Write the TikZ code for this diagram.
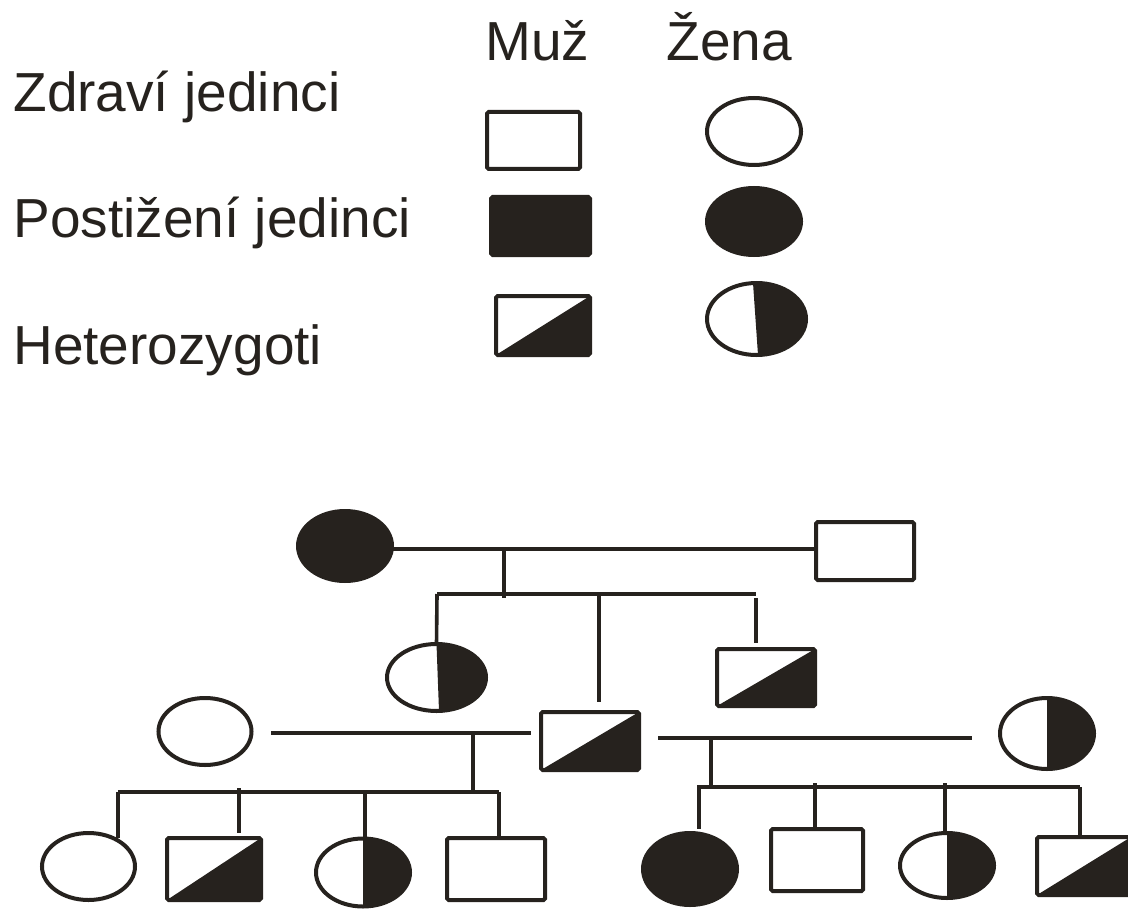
\documentclass[tikz,border=0pt]{standalone}
\usepackage{fontspec}
\setmainfont{Liberation Sans}
\usetikzlibrary{shapes.geometric}
\definecolor{ink}{RGB}{38,34,30}
\begin{document}
\begin{tikzpicture}[x=0.5pt,y=-0.5pt,
  ind/.style={draw=ink,line width=2pt,inner sep=0pt,outer sep=0pt},
  male/.style={ind,rectangle,rounded corners=0.8pt},
  female/.style={ind,ellipse},
  aff/.style={fill=ink},
  hetM/.style={path picture={\fill[ink] (path picture bounding box.south west) -- (path picture bounding box.north east) -- (path picture bounding box.south east) -- cycle;}},
  hetF/.style 2 args={path picture={\fill[ink] ([xshift=#1]path picture bounding box.north) -- (path picture bounding box.north east) -- (path picture bounding box.south east) -- ([xshift=#2]path picture bounding box.south) -- cycle;}},
  conn/.style={draw=ink,line width=1.8pt},
  lbl/.style={text=ink,inner sep=0pt,anchor=base west,font=\fontsize{27.5pt}{33pt}\selectfont}]
\useasboundingbox (0,0) rectangle (1128,909);

% ---------- legend ----------
\node[lbl] (tM) at (485,61) {Muž};
\node[lbl] (tZ) at (666,61) {Žena};
\node[lbl] (t1) at (13,112) {Zdraví jedinci};
\node[lbl] (t2) at (13,237) {Postižení jedinci};
\node[lbl] (t3) at (13,364) {Heterozygoti};

\node[male,minimum width=46.5pt,minimum height=28.5pt] (L1) at (533.5,140.5) {};
\node[female,minimum width=47pt,minimum height=33.5pt] (L2) at (754,131.5) {};
\node[male,aff,minimum width=49.5pt,minimum height=29pt] (L3) at (540.5,226) {};
\node[female,aff,minimum width=47pt,minimum height=33.5pt] (L4) at (754,221.5) {};
\node[male,hetM,minimum width=47pt,minimum height=29.5pt] (L5) at (543,325.5) {};
\node[female,hetF={-1.75pt}{0.75pt},minimum width=49.5pt,minimum height=36pt] (L6) at (756.5,319) {};

% ---------- pedigree individuals ----------
\node[female,aff,minimum width=47pt,minimum height=35pt] (P1) at (345,546) {};
\node[male,minimum width=49pt,minimum height=29pt] (P2) at (865,551) {};

\node[female,hetF={0pt}{1.25pt},minimum width=49.5pt,minimum height=33.5pt] (Q1) at (436.5,677.5) {};
\node[male,hetM,minimum width=49pt,minimum height=29pt] (Q2) at (590,741) {};
\node[male,hetM,minimum width=49pt,minimum height=28.5pt] (Q3) at (766,677.5) {};

\node[female,minimum width=46.5pt,minimum height=33.5pt] (W1) at (205,731.5) {};
\node[female,hetF={0pt}{0pt},minimum width=47pt,minimum height=35.5pt] (W2) at (1047,733.5) {};

\node[female,minimum width=46.5pt,minimum height=33.5pt] (A) at (88.5,866.5) {};
\node[male,hetM,minimum width=47pt,minimum height=31pt] (B) at (214,869) {};
\node[female,hetF={0pt}{0pt},minimum width=47pt,minimum height=34pt] (C) at (363,872.5) {};
\node[male,minimum width=49pt,minimum height=31pt] (D) at (496,869) {};
\node[female,aff,minimum width=47pt,minimum height=36pt] (E) at (690,869) {};
\node[male,minimum width=46pt,minimum height=31pt] (F) at (817,860) {};
\node[female,hetF={0pt}{0pt},minimum width=47pt,minimum height=32.5pt] (G) at (947,865.5) {};
\node[male,hetM,minimum width=47pt,minimum height=29pt] (H) at (1084,866) {};

% ---------- connector points ----------
\coordinate (m1) at (504,549);
\coordinate (s1L) at (437,594);
\coordinate (s1R) at (756,594);
\coordinate (q2top) at (599,702);
\coordinate (q3top) at (756,643);

\coordinate (m2a) at (271,733);
\coordinate (m2b) at (531,733);
\coordinate (m2) at (473,733);
\coordinate (s2L) at (118,792);
\coordinate (s2R) at (499,792);

\coordinate (m3a) at (658,738);
\coordinate (m3b) at (972,738);
\coordinate (m3) at (711,738);
\coordinate (s3L) at (697,787);
\coordinate (s3R) at (1080,787);

\coordinate (aT) at (118,838);
\coordinate (bT) at (239,833);
\coordinate (cT) at (365,837);
\coordinate (dT) at (499,837);
\coordinate (eT) at (699,829);
\coordinate (fT) at (815,828);
\coordinate (gT) at (945,831);
\coordinate (hT) at (1080,836);

% ---------- connectors ----------
\draw[conn] (P1.east |- m1) -- (P2.west |- m1);
\draw[conn] (m1) -- ([yshift=-2pt]m1 |- s1L);
\draw[conn] (s1L) -- (s1R);
\draw[conn] (s1L) -- (Q1.north);
\draw[conn] (q2top |- s1L) -- (q2top);
\draw[conn] ([yshift=-2pt]s1R) -- (q3top);

\draw[conn] (m2a) -- (m2b);
\draw[conn] (m2) -- (m2 |- s2L);
\draw[conn] (s2L) -- (s2R);
\draw[conn] (aT |- s2L) -- (aT);
\draw[conn] ([yshift=2pt]bT |- s2L) -- (bT);
\draw[conn] (cT |- s2L) -- (cT);
\draw[conn] (dT |- s2L) -- (dT);

\draw[conn] (m3a) -- (m3b);
\draw[conn] (m3) -- (m3 |- s3L);
\draw[conn] (s3L) -- (s3R);
\draw[conn] (eT |- s3L) -- (eT);
\draw[conn] ([yshift=2pt]fT |- s3L) -- (fT);
\draw[conn] ([yshift=2pt]gT |- s3L) -- (gT);
\draw[conn] (hT |- s3L) -- (hT);
\end{tikzpicture}
\end{document}
